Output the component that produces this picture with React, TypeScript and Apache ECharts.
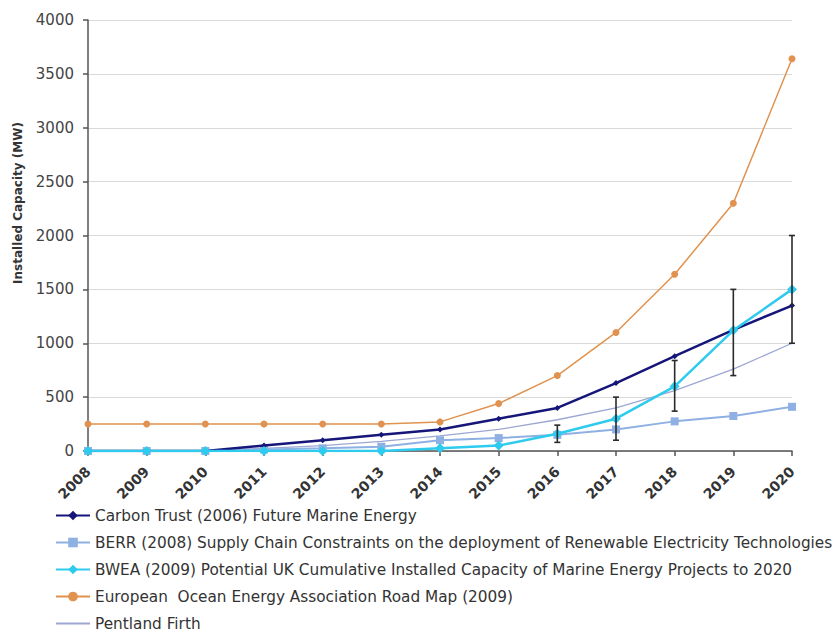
import React, { useEffect, useRef } from "react";
import * as echarts from "echarts";

// Forecast years on the category axis
const years = ["2008", "2009", "2010", "2011", "2012", "2013", "2014", "2015", "2016", "2017", "2018", "2019", "2020"];

// Installed capacity projections (MW)
const carbonTrust = [0, 0, 0, 50, 100, 150, 200, 300, 400, 630, 880, 1125, 1350];
const berr = [0, 0, 0, 15, 25, 40, 100, 120, 150, 200, 275, 325, 410];
const bwea = [0, 0, 0, 0, 0, 0, 25, 50, 160, 300, 600, 1120, 1500];
const euOcean = [250, 250, 250, 250, 250, 250, 270, 440, 700, 1100, 1640, 2300, 3640];
const pentland = [0, 0, 0, 25, 50, 90, 140, 200, 290, 400, 560, 760, 1000];

// Uncertainty range around the BWEA projection (year index, low, high)
const rangeYears = [8, 9, 10, 11, 12];
const rangeLow = [80, 100, 370, 700, 1000];
const rangeHigh = [240, 500, 840, 1500, 2000];

const seriesNames = [
  "Carbon Trust (2006) Future Marine Energy",
  "BERR (2008) Supply Chain Constraints on the deployment of Renewable Electricity Technologies",
  "BWEA (2009) Potential UK Cumulative Installed Capacity of Marine Energy Projects to 2020",
  "European  Ocean Energy Association Road Map (2009)",
  "Pentland Firth",
];

const FONT = "'DejaVu Sans', Verdana, sans-serif";

export default function App() {
  const ref = useRef<HTMLDivElement>(null);

  useEffect(() => {
    if (!ref.current) return;
    const chart = echarts.init(ref.current, null, { renderer: "svg" });

    const rangeData = rangeYears.map((x, i) => [x, rangeLow[i], rangeHigh[i]]);

    chart.setOption({
      animation: false,
      backgroundColor: "#ffffff",
      textStyle: { fontFamily: FONT },
      grid: { left: 88, right: 46, top: 20, bottom: 186, containLabel: false },
      xAxis: {
        type: "category",
        data: years,
        boundaryGap: false,
        axisLine: { lineStyle: { color: "#555555", width: 1.5 } },
        axisTick: { show: true, length: 5, lineStyle: { color: "#555555", width: 1.5 } },
        axisLabel: {
          rotate: 45,
          margin: 18,
          fontSize: 14,
          fontWeight: "bold",
          color: "#333333",
          fontFamily: FONT,
        },
        splitLine: { show: false },
      },
      yAxis: {
        type: "value",
        min: 0,
        max: 4000,
        interval: 500,
        axisLine: { show: true, lineStyle: { color: "#555555", width: 1.5 } },
        axisTick: { show: true, length: 5, lineStyle: { color: "#555555", width: 1.5 } },
        axisLabel: {
          fontSize: 15,
          color: "#444444",
          margin: 14,
          fontFamily: FONT,
          formatter: (v: number) => String(v),
        },
        splitLine: { lineStyle: { color: "#d9d9d9", width: 1 } },
      },
      legend: {
        orient: "vertical",
        left: 50,
        top: 503,
        height: 160,
        padding: 5,
        itemWidth: 34,
        itemHeight: 12,
        itemGap: 12,
        data: [
          { name: seriesNames[0] },
          { name: seriesNames[1] },
          { name: seriesNames[2] },
          { name: seriesNames[3] },
          { name: seriesNames[4], icon: "path://M0,5 L34,5 L34,7 L0,7 Z" },
        ],
        textStyle: { fontSize: 15.3, color: "#333333", fontFamily: FONT, lineHeight: 15 },
      },
      graphic: [
        {
          type: "text",
          x: 18,
          y: 203,
          rotation: Math.PI / 2,
          style: {
            text: "Installed Capacity (MW)",
            fontSize: 12,
            fontWeight: "bold",
            fontFamily: FONT,
            fill: "#333333",
            textAlign: "center",
            textVerticalAlign: "middle",
          },
        },
      ],
      series: [
        {
          name: seriesNames[3],
          type: "line",
          data: euOcean,
          symbol: "circle",
          symbolSize: 7,
          lineStyle: { color: "#e0924e", width: 1.5 },
          itemStyle: { color: "#e0924e" },
          z: 2,
        },
        {
          name: seriesNames[4],
          type: "line",
          data: pentland,
          symbol: "none",
          lineStyle: { color: "#9ea6d2", width: 1.3 },
          itemStyle: { color: "#9ea6d2" },
          z: 2,
        },
        {
          name: seriesNames[1],
          type: "line",
          data: berr,
          symbol: "rect",
          symbolSize: 8,
          lineStyle: { color: "#8fb0e3", width: 2 },
          itemStyle: { color: "#8fb0e3" },
          z: 3,
        },
        {
          name: seriesNames[0],
          type: "line",
          data: carbonTrust,
          symbol: "diamond",
          symbolSize: 6,
          lineStyle: { color: "#16167a", width: 2.5 },
          itemStyle: { color: "#16167a" },
          z: 4,
        },
        {
          name: seriesNames[2],
          type: "line",
          data: bwea,
          symbol: "diamond",
          symbolSize: 10,
          lineStyle: { color: "#2ecbef", width: 2.5 },
          itemStyle: { color: "#2ecbef" },
          z: 5,
        },
        {
          name: "range",
          type: "custom",
          data: rangeData,
          encode: { x: 0, y: [1, 2] },
          z: 6,
          renderItem: (params: any, api: any) => {
            const x = api.value(0);
            const lo = api.coord([x, api.value(1)]);
            const hi = api.coord([x, api.value(2)]);
            const cap = 3;
            const style = { stroke: "#2a2a2a", lineWidth: 1.6 };
            return {
              type: "group",
              children: [
                { type: "line", shape: { x1: lo[0], y1: lo[1], x2: hi[0], y2: hi[1] }, style },
                { type: "line", shape: { x1: hi[0] - cap, y1: hi[1], x2: hi[0] + cap, y2: hi[1] }, style },
                { type: "line", shape: { x1: lo[0] - cap, y1: lo[1], x2: lo[0] + cap, y2: lo[1] }, style },
              ],
            };
          },
        },
      ],
    });

    return () => chart.dispose();
  }, []);

  return (
    <div
      ref={ref}
      style={{ position: "fixed", left: 0, top: 0, width: 838, height: 637, background: "#ffffff" }}
    />
  );
}
